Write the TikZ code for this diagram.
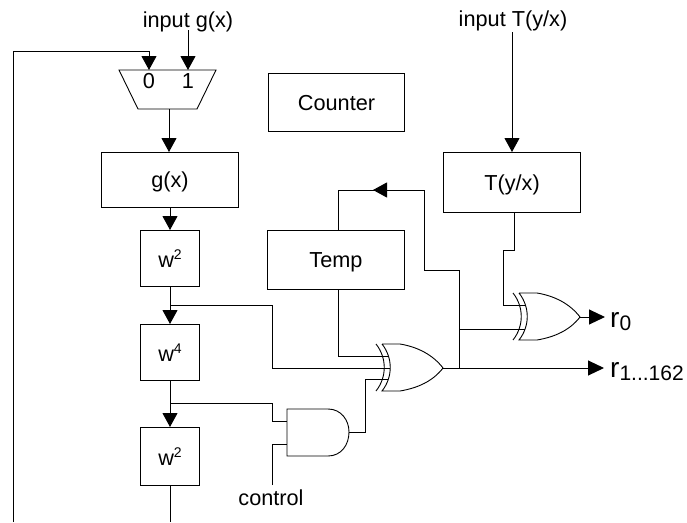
\documentclass[tikz,border=0pt]{standalone}
\usepackage{fontspec}
\setmainfont{Liberation Sans}
\usetikzlibrary{arrows.meta}
\newcommand{\supw}[1]{w\raisebox{8pt}{\fontsize{14}{14}\selectfont #1}}
\newcommand{\subr}[1]{r\raisebox{-3.5pt}{\fontsize{21}{21}\selectfont #1}}
\tikzset{
  wire/.style={line width=1pt,line join=miter},
  arr/.style={wire,-{Triangle[length=14pt,width=15pt]}},
  outarr/.style={wire,-{Triangle[length=16pt,width=15pt]}},
  gate/.style={line width=0.9pt,line join=miter},
  blk/.style={draw,line width=1pt,minimum width=#1,inner sep=0pt,font=\fontsize{21.7}{24}\selectfont,anchor=north west,text depth=0pt,yshift=0pt},
  lab/.style={inner sep=0pt,font=\fontsize{21.7}{24}\selectfont},
  big/.style={inner sep=0pt,anchor=base west,font=\fontsize{28}{30}\selectfont},
}
\begin{document}
\begin{tikzpicture}[x=1pt,y=-1pt]
\useasboundingbox (0,0) rectangle (687,522);
% blocks
\node[blk=137pt,minimum height=55pt] (gx) at (101,152) {g(x)};
\node[blk=59pt,minimum height=56pt] (wa) at (140,230) {\supw{2}};
\node[blk=59pt,minimum height=56pt] (wb) at (140,324) {\supw{4}};
\node[blk=59pt,minimum height=58pt] (wc) at (140,427) {\supw{2}};
\node[blk=136pt,minimum height=58pt] (counter) at (268,73) {Counter};
\node[blk=137pt,minimum height=59pt] (temp) at (267,230) {Temp};
\node[blk=137pt,minimum height=60pt] (tyx) at (443,152) {T(y/x)};
% mux
\draw[gate] (119,70) -- (216,70) -- (197,109) -- (138,109) -- cycle;
\node[lab] (m0) at (149,81) {0};
\node[lab] (m1) at (188,81) {1};
\coordinate (m0in) at (149,70);
\coordinate (m1in) at (188,70);
\coordinate (mout) at (169,109);
% labels
\node[lab] (ing) at (188,22) {input g(x)};
\node[lab] (inT) at (513,21) {input T(y/x)};
\node[lab] (ctl) at (271,498) {control};
\node[big] (r0) at (610,327) {\subr{0}};
\node[big] (r1) at (610,377) {\subr{1...162}};
% XOR main
\draw[gate] (376,344) .. controls (387,358) and (387,377) .. (376,391);
\draw[gate] (382,344) -- (400,344) .. controls (418,347) and (433,355) .. (443,368)
  .. controls (433,381) and (418,388) .. (400,391) -- (382,391)
  .. controls (393,377) and (393,358) .. (382,344);
\coordinate (xa) at (388,356);
\coordinate (xb) at (390,368);
\coordinate (xc) at (388,379);
\coordinate (xout) at (443,368);
% XOR r0
\draw[gate] (513,293) .. controls (524,307) and (524,326) .. (513,340);
\draw[gate] (519,293) -- (537,293) .. controls (555,296) and (570,304) .. (580,317)
  .. controls (570,330) and (555,337) .. (537,340) -- (519,340)
  .. controls (530,326) and (530,307) .. (519,293);
\coordinate (ya) at (525,305);
\coordinate (yb) at (525,329);
\coordinate (yout) at (580,317);
% AND
\draw[gate] (287,409) -- (328,409) .. controls (341,409) and (349,420) .. (349,432)
  .. controls (349,445) and (341,456) .. (328,456) -- (287,456) -- cycle;
\coordinate (aa) at (287,421);
\coordinate (ab) at (287,444);
\coordinate (aout) at (349,432);
% junctions and free ends
\coordinate (ga) at (170,305);
\coordinate (gb) at (170,403);
\coordinate (gc) at (459,368);
\coordinate (gd) at (459,329);
\coordinate (botfb) at (13,522);
\coordinate (botw) at (170,522);
\coordinate (outone) at (604,368);
\coordinate (outzero) at (605,317);
\coordinate (fbtip) at (373,190);
\coordinate (fbcorner) at (424,190);
\coordinate (ctlup) at (272,485);
\coordinate (ingend) at (188,30);
\coordinate (inTend) at (512,32);
\coordinate (tempb) at (338,289);
\coordinate (tempt) at (338,230);
\coordinate (tyxb) at (514,212);
% connectors
\draw[arr] (botfb) |- (149,51) -- (m0in);
\draw[arr] (ingend) -- (m1in);
\draw[arr] (mout) -- (gx.north -| mout);
\draw[arr] (gx.south -| wa.north) -- (wa.north);
\draw[arr] (wa.south) -- (wb.north);
\draw[arr] (wb.south) -- (wc.north);
\draw[wire] (wc.south) -- (botw);
\draw[wire] (ga) -- (272,305) |- (xb);
\draw[wire] (gb) -- (272,403) |- (aa);
\draw[wire] (ctlup) |- (ab);
\draw[wire] (tempb) |- (xa);
\draw[wire] (aout) -- (365,432) |- (xc);
\draw[outarr] (xout) -- (outone);
\draw[wire] (gc) -- (459,270) -- (424,270) -- (fbcorner);
\draw[wire] (tempt) |- (fbcorner);
\draw[arr] (fbcorner) -- (fbtip);
\draw[wire] (gd) -- (yb);
\draw[arr] (inTend) -- (tyx.north);
\draw[wire] (tyxb) -- (514,250) -- (503,250) |- (ya);
\draw[outarr] (yout) -- (outzero);
\end{tikzpicture}
\end{document}
